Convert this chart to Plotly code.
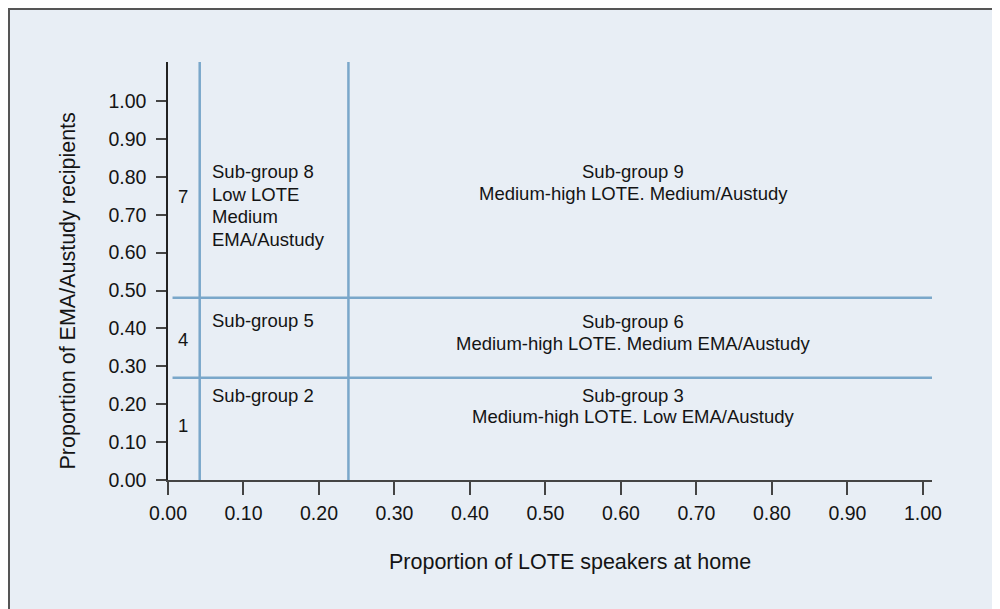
import plotly.graph_objects as go

# ---- data ----
x_cuts = [0.042, 0.239]          # LOTE proportion cut points (vertical lines)
y_cuts = [0.270, 0.481]          # EMA/Austudy proportion cut points (horizontal lines)
x_max = 1.012
y_max = 1.103
h_line_start = 0.006

tick_vals = [0.0, 0.1, 0.2, 0.3, 0.4, 0.5, 0.6, 0.7, 0.8, 0.9, 1.0]
tick_text = ["0.00", "0.10", "0.20", "0.30", "0.40", "0.50", "0.60", "0.70", "0.80", "0.90", "1.00"]

row_numbers = ["7", "4", "1"]
left_group_lines = [["Sub-group 8", "Low LOTE", "Medium", "EMA/Austudy"], ["Sub-group 5"], ["Sub-group 2"]]
right_group_lines = [["Sub-group 9", "Medium-high LOTE. Medium/Austudy"],
                     ["Sub-group 6", "Medium-high LOTE. Medium EMA/Austudy"],
                     ["Sub-group 3", "Medium-high LOTE. Low EMA/Austudy"]]

x_title = "Proportion of LOTE speakers at home"
y_title = "Proportion of EMA/Austudy recipients"

# ---- layout geometry (page pixels; the page body adds an 8px offset) ----
OFF = 8
W, H = 1000, 609
ML = 168 - OFF
MT = 62 - OFF
MR = W - (932 - OFF)
MB = H - (480 - OFF)
PW, PH = W - ML - MR, H - MT - MB

def px_to_y(py):
    return (H - MB - (py - OFF)) / PH * y_max

def px_to_x(px):
    return ((px - OFF) - ML) / PW * x_max

def px_to_paper_x(px):
    return ((px - OFF) - ML) / PW

def px_to_paper_y(py):
    return (H - MB - (py - OFF)) / PH

LINE_COLOR = "#7aa7ca"
TEXT_COLOR = "#141414"
AXIS_COLOR = "#444444"
BG = "#e8eef5"
FONT = "Liberation Sans, Arial, sans-serif"

fig = go.Figure()

# vertical division lines
for xc in x_cuts:
    fig.add_trace(go.Scatter(x=[xc, xc], y=[0, y_max], mode="lines",
                             line=dict(color=LINE_COLOR, width=2.5),
                             hoverinfo="skip", showlegend=False, cliponaxis=False))
# horizontal division lines
for yc in y_cuts:
    fig.add_trace(go.Scatter(x=[h_line_start, x_max], y=[yc, yc], mode="lines",
                             line=dict(color=LINE_COLOR, width=2.5),
                             hoverinfo="skip", showlegend=False, cliponaxis=False))

annotations = []
ann_font = dict(family=FONT, size=18.5, color=TEXT_COLOR)

# row numbers
num_px_y = [196, 339, 425.5]
for t, py in zip(row_numbers, num_px_y):
    annotations.append(dict(x=px_to_x(183), y=px_to_y(py), xref="x", yref="y", text=t,
                            showarrow=False, xanchor="center", yanchor="middle", font=ann_font))

# left group texts
left_first_py = [171.7, 320, 395]
for lines, py0 in zip(left_group_lines, left_first_py):
    for i, t in enumerate(lines):
        annotations.append(dict(x=px_to_x(210), y=px_to_y(py0 + i * 22.6), xref="x", yref="y",
                                text=t, showarrow=False, xanchor="left", yanchor="middle", font=ann_font))

# right group texts
right_first_py = [171.7, 321.7, 395]
for lines, py0 in zip(right_group_lines, right_first_py):
    for i, t in enumerate(lines):
        annotations.append(dict(x=px_to_x(633), y=px_to_y(py0 + i * 21.5), xref="x", yref="y",
                                text=t, showarrow=False, xanchor="center", yanchor="middle", font=ann_font))

# axis titles
title_font = dict(family=FONT, size=21.5, color=TEXT_COLOR)
annotations.append(dict(x=px_to_paper_x(570.3), y=px_to_paper_y(561.5), xref="paper", yref="paper",
                        text=x_title, showarrow=False, xanchor="center", yanchor="middle", font=title_font))
annotations.append(dict(x=px_to_paper_x(67.5), y=px_to_paper_y(291), xref="paper", yref="paper",
                        text=y_title, textangle=-90, showarrow=False, xanchor="center", yanchor="middle",
                        font=title_font))

# outer frame border (top-left corner visible, extends beyond the image)
shapes = [dict(type="rect", xref="paper", yref="paper", layer="below",
               x0=px_to_paper_x(9), x1=px_to_paper_x(1030),
               y0=px_to_paper_y(640), y1=px_to_paper_y(9),
               fillcolor=BG, line=dict(color="#555555", width=2))]

tick_font = dict(family=FONT, size=19.5, color=TEXT_COLOR)

fig.update_layout(
    width=W, height=H,
    margin=dict(l=ML, r=MR, t=MT, b=MB, pad=0),
    paper_bgcolor=BG,
    plot_bgcolor="rgba(0,0,0,0)",
    showlegend=False,
    annotations=annotations,
    shapes=shapes,
    xaxis=dict(range=[0, x_max], tickvals=tick_vals, ticktext=tick_text,
               showgrid=False, zeroline=False, showline=True, linecolor=AXIS_COLOR, linewidth=2,
               ticks="outside", ticklen=13, tickwidth=2, tickcolor=AXIS_COLOR,
               tickfont=tick_font, ticklabelstandoff=2, fixedrange=True),
    yaxis=dict(range=[0, y_max], tickvals=tick_vals, ticktext=tick_text,
               showgrid=False, zeroline=False, showline=True, linecolor="#222222", linewidth=1.5,
               ticks="outside", ticklen=10, tickwidth=2, tickcolor=AXIS_COLOR,
               tickfont=tick_font, ticklabelstandoff=6, fixedrange=True),
)

fig.write_html("out.html",
               post_script="document.documentElement.style.overflow='hidden';"
                           "document.body.style.overflow='hidden';")
